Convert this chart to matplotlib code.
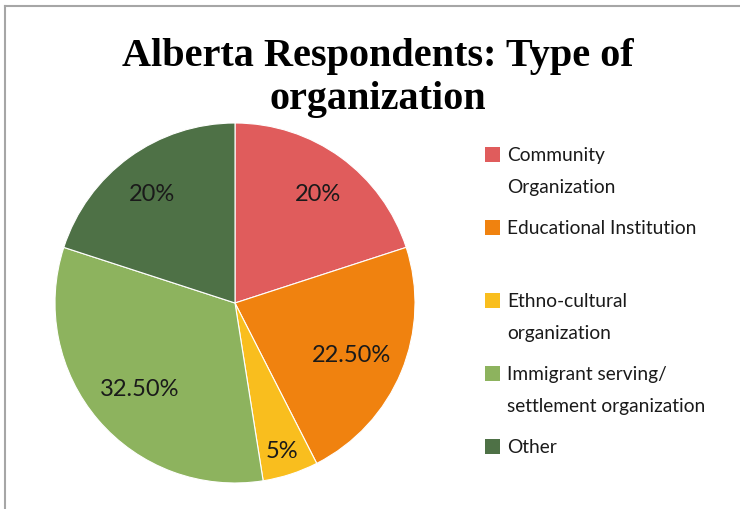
import matplotlib
matplotlib.use("Agg")
import matplotlib.pyplot as plt
import numpy as np
from matplotlib.patches import Rectangle
from matplotlib.lines import Line2D

# chart data
categories = ["Community\nOrganization", "Educational Institution",
              "Ethno-cultural\norganization", "Immigrant serving/\nsettlement organization",
              "Other"]
shares = [20, 22.5, 5, 32.5, 20]
share_labels = ["20%", "22.50%", "5%", "32.50%", "20%"]
colors = ["#E05C5C", "#F0820F", "#F9BE1E", "#8DB35E", "#4E7146"]

# how far out each percent label sits (fraction of radius), like Excel best fit
label_radius = [0.78, 0.70, 0.84, 0.70, 0.78]

W, H = 740, 510
fig = plt.figure(figsize=(W / 100, H / 100), dpi=100)

# outer frame (only top and left edges visible)
fig.add_artist(Line2D([5 / W, 5 / W], [0, 1 - 7 / H], transform=fig.transFigure,
                      color="#A6A6A6", lw=1.5))
fig.add_artist(Line2D([5 / W, 1], [1 - 7 / H, 1 - 7 / H], transform=fig.transFigure,
                      color="#A6A6A6", lw=1.5))

# pie, centre (235, 304) radius 180 px
cx, cy, r = 235, 304, 180
ax = fig.add_axes([(cx - r) / W, (H - cy - r) / H, 2 * r / W, 2 * r / H])
wedges, _ = ax.pie(shares, colors=colors, startangle=90, counterclock=False,
                   wedgeprops=dict(edgecolor="white", linewidth=0.8))
for w, lab, rad in zip(wedges, share_labels, label_radius):
    mid = np.deg2rad((w.theta1 + w.theta2) / 2)
    ax.text(rad * np.cos(mid), rad * np.sin(mid) - 0.02, lab, family="Lato",
            fontsize=17, color="#1a1a1a", ha="center", va="center")
ax.set_xlim(-1, 1)
ax.set_ylim(-1, 1)
ax.set_aspect("equal")
ax.axis("off")

# title
title_font = dict(family="Liberation Serif", fontweight="bold", fontsize=29,
                  color="black", ha="center", va="baseline")
fig.text(378 / W, 1 - 66 / H, "Alberta Respondents: Type of", **title_font)
fig.text(378 / W, 1 - 109 / H, "organization", **title_font)

# legend drawn by hand
sq = 15
for i, (lab, col) in enumerate(zip(categories, colors)):
    yc = 155 + 73.2 * i
    fig.add_artist(Rectangle((485 / W, 1 - (yc + sq / 2) / H), sq / W, sq / H,
                             transform=fig.transFigure, facecolor=col, edgecolor="none"))
    for j, line in enumerate(lab.split("\n")):
        fig.text(507 / W, 1 - (yc + 32 * j) / H, line, family="Lato",
                 fontsize=13.8, color="#1a1a1a", ha="left", va="center")

fig.savefig("out.png", dpi=100, facecolor="white")
